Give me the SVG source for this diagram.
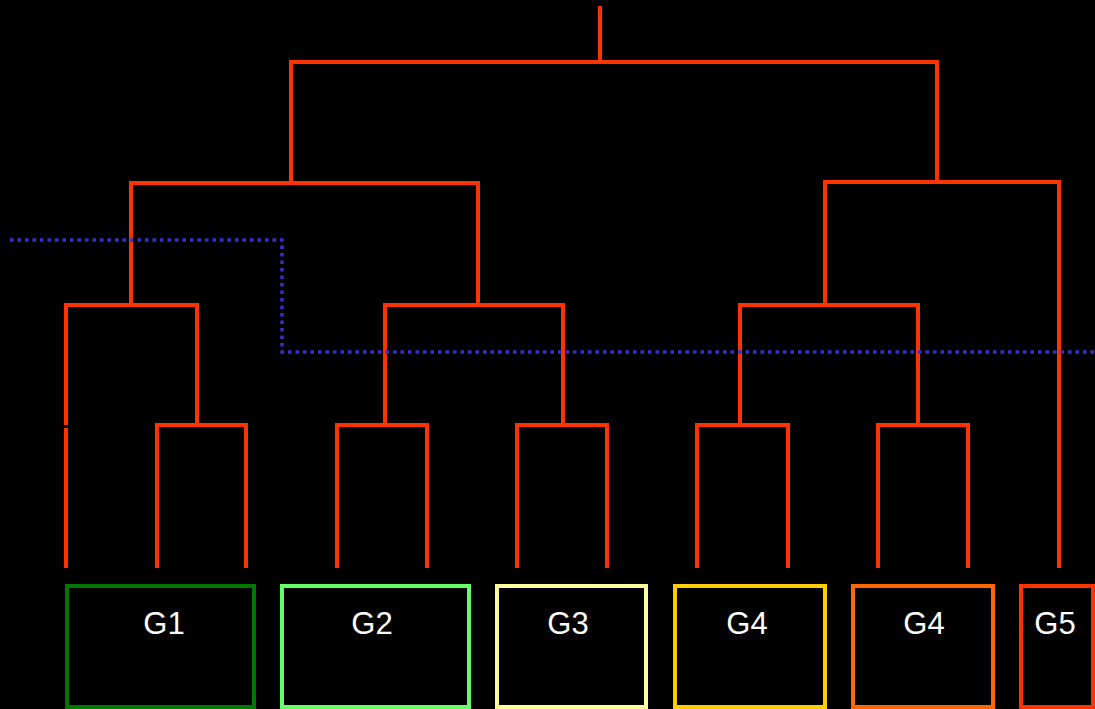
<svg xmlns="http://www.w3.org/2000/svg" width="1095" height="709" viewBox="0 0 1095 709">
<style>
.d{fill:none;stroke:#FF3300;stroke-width:4;stroke-linecap:butt;stroke-linejoin:miter}
.cut{fill:none;stroke:#3333CC;stroke-width:3.5;stroke-dasharray:3.5 4}
.box{fill:#000;stroke-width:4}
.lbl{fill:#FFFFFF;font-family:"Liberation Sans",Arial,sans-serif;font-size:31px;text-anchor:middle}
</style>
<rect width="1095" height="709" fill="#000"/>
<g id="connectors">
<path class="d" d="M600 6V62"/>
<path class="d" d="M291 183V62H937V182"/>
<path class="d" d="M131 305V183H478V305"/>
<path class="d" d="M825 305V182H1059V568"/>
<path class="d" d="M66 425V305H197V425"/>
<path class="d" d="M66 428V568"/>
<path class="d" d="M157 568V425H246V568"/>
<path class="d" d="M385 425V305H563V425"/>
<path class="d" d="M337 568V425H427V568"/>
<path class="d" d="M517 568V425H607V568"/>
<path class="d" d="M740 425V305H918V425"/>
<path class="d" d="M697 568V425H788V568"/>
<path class="d" d="M878 568V425H968V568"/>
</g>
<g id="cutline">
<path class="cut" d="M10 240H282V352H1095"/>
</g>
<g id="g1"><rect class="box" x="67" y="586" width="187" height="121" stroke="#007700"/><text class="lbl" x="164" y="634">G1</text></g>
<g id="g2"><rect class="box" x="282" y="586" width="187" height="121" stroke="#66FF66"/><text class="lbl" x="372" y="634">G2</text></g>
<g id="g3"><rect class="box" x="497" y="586" width="149" height="121" stroke="#FFFF99"/><text class="lbl" x="568" y="634">G3</text></g>
<g id="g4a"><rect class="box" x="675" y="586" width="150" height="121" stroke="#FFCC00"/><text class="lbl" x="747" y="634">G4</text></g>
<g id="g4b"><rect class="box" x="853" y="586" width="140" height="121" stroke="#FF6600"/><text class="lbl" x="924" y="634">G4</text></g>
<g id="g5"><rect class="box" x="1021" y="586" width="72" height="121" stroke="#FF3300"/><text class="lbl" x="1055" y="634">G5</text></g>
</svg>
